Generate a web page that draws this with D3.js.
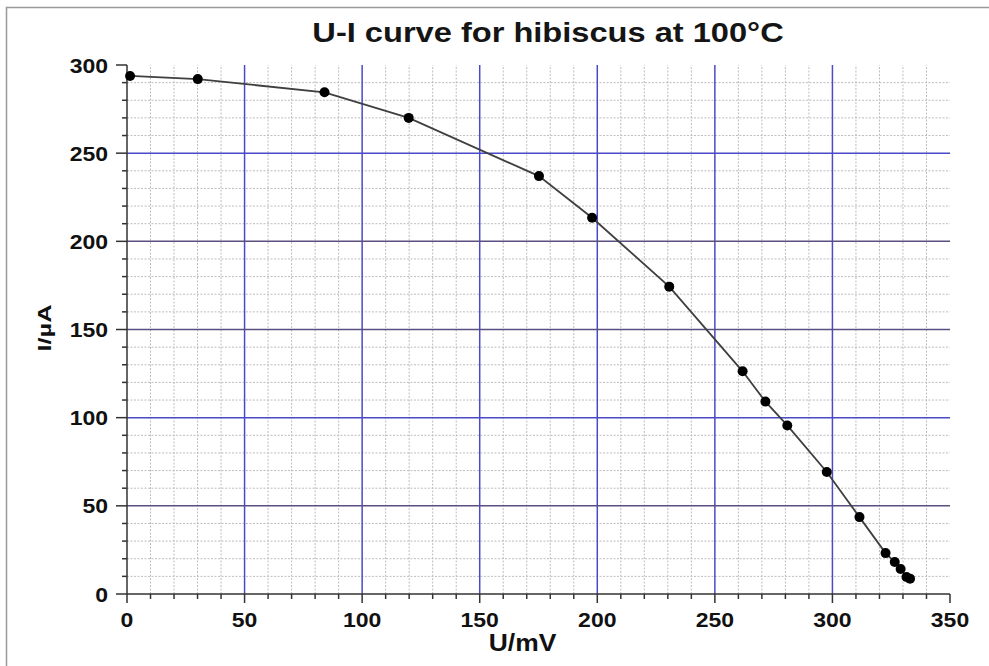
<!DOCTYPE html>
<html>
<head>
<meta charset="utf-8">
<script src="https://cdn.jsdelivr.net/npm/d3@7"></script>
<style>
  body { margin: 0; background: #fff; }
  text { font-family: "Liberation Sans", Arial, sans-serif; }
</style>
</head>
<body>
<div id="chart-container"></div>
<script>
// Data
const voltage = [1.3, 30.1, 84, 119.8, 175.2, 197.8, 230.6, 261.8, 271.5, 280.8, 297.6, 311.5, 322.6, 326.5, 329, 331.5, 333];
const current = [293.8, 292, 284.5, 270, 237, 213.4, 174.3, 126.3, 109.1, 95.6, 69.2, 43.6, 23.2, 18.1, 14.2, 9.6, 8.7];
const xTicks = [0, 50, 100, 150, 200, 250, 300, 350];
const yTicks = [0, 50, 100, 150, 200, 250, 300];
// horizontal major lines drawn darker in the original
const darkRows = [200, 150, 50];

const points = voltage.map((v, i) => ({ u: v, i: current[i] }));

// Set dimensions and margins for the chart
const margin = { top: 65, right: 39, bottom: 72, left: 127 };
const width = 989 - margin.left - margin.right;
const height = 666 - margin.top - margin.bottom;

// text in the original looks stretched sideways
const stretch = 1.15;

const x = d3.scaleLinear().domain([0, 350]).range([0, width]);
const y = d3.scaleLinear().domain([0, 300]).range([height, 0]);

const root = d3.select("#chart-container")
    .append("svg")
    .attr("width", 989)
    .attr("height", 666);

// thin frame around the picture
root.append("path")
    .attr("d", "M6.5,666 V7.5 H989")
    .attr("fill", "none")
    .attr("stroke", "#999")
    .attr("stroke-width", 1.5);

const svg = root.append("g")
    .attr("transform", `translate(${margin.left},${margin.top})`);

// Minor grid (every 10)
const minorX = d3.range(10, 351, 10).filter(d => d % 50 !== 0);
const minorY = d3.range(10, 301, 10).filter(d => d % 50 !== 0);

svg.append("g").selectAll("line")
    .data(minorX)
    .join("line")
    .attr("x1", d => x(d)).attr("x2", d => x(d))
    .attr("y1", y(0)).attr("y2", y(300))
    .attr("stroke", "#bdbdbd")
    .attr("stroke-width", 1)
    .attr("stroke-dasharray", "2,1.5");

svg.append("g").selectAll("line")
    .data(minorY)
    .join("line")
    .attr("y1", d => y(d)).attr("y2", d => y(d))
    .attr("x1", x(0)).attr("x2", x(350))
    .attr("stroke", "#bdbdbd")
    .attr("stroke-width", 1)
    .attr("stroke-dasharray", "2,1.5");

// Major grid
svg.append("g").selectAll("line")
    .data(xTicks.filter(d => d > 0 && d < 350))
    .join("line")
    .attr("x1", d => x(d)).attr("x2", d => x(d))
    .attr("y1", y(0)).attr("y2", y(300))
    .attr("stroke", "#4a4ac8")
    .attr("stroke-width", 1.5);

svg.append("g").selectAll("line")
    .data(yTicks.filter(d => d > 0 && d < 300))
    .join("line")
    .attr("y1", d => y(d)).attr("y2", d => y(d))
    .attr("x1", x(0)).attr("x2", x(350))
    .attr("stroke", d => darkRows.includes(d) ? "#5a4f80" : "#4a4ac8")
    .attr("stroke-width", 1.5);

// Axes
const axisColor = "#333";
const xAxis = svg.append("g").attr("transform", `translate(0,${height})`);
xAxis.append("line")
    .attr("x1", 0).attr("x2", width)
    .attr("stroke", axisColor).attr("stroke-width", 1.5);
xAxis.selectAll(".minor")
    .data(minorX)
    .join("line")
    .attr("x1", d => x(d)).attr("x2", d => x(d))
    .attr("y1", 0).attr("y2", 5)
    .attr("stroke", axisColor).attr("stroke-width", 1.5);
xAxis.selectAll(".major")
    .data(xTicks)
    .join("line")
    .attr("x1", d => x(d)).attr("x2", d => x(d))
    .attr("y1", 0).attr("y2", 9)
    .attr("stroke", axisColor).attr("stroke-width", 1.5);
xAxis.selectAll("text")
    .data(xTicks)
    .join("text")
    .attr("transform", d => `translate(${x(d)},33) scale(${stretch},1)`)
    .attr("text-anchor", "middle")
    .attr("font-size", 20)
    .attr("font-weight", "bold")
    .attr("fill", "#111")
    .text(d => d);

const yAxis = svg.append("g");
yAxis.append("line")
    .attr("y1", 0).attr("y2", height)
    .attr("stroke", axisColor).attr("stroke-width", 1.5);
yAxis.selectAll(".minor")
    .data(minorY)
    .join("line")
    .attr("y1", d => y(d)).attr("y2", d => y(d))
    .attr("x1", 0).attr("x2", -5)
    .attr("stroke", axisColor).attr("stroke-width", 1.5);
yAxis.selectAll(".major")
    .data(yTicks)
    .join("line")
    .attr("y1", d => y(d)).attr("y2", d => y(d))
    .attr("x1", 0).attr("x2", -11)
    .attr("stroke", axisColor).attr("stroke-width", 1.5);
yAxis.selectAll("text")
    .data(yTicks)
    .join("text")
    .attr("transform", d => `translate(-19,${y(d) + 7.5}) scale(${stretch},1)`)
    .attr("text-anchor", "end")
    .attr("font-size", 20)
    .attr("font-weight", "bold")
    .attr("fill", "#111")
    .text(d => d);

// Axis titles
svg.append("text")
    .attr("transform", `translate(${x(350) / 2 - 16},${height + 57}) scale(${stretch},1)`)
    .attr("text-anchor", "middle")
    .attr("font-size", 23)
    .attr("font-weight", "bold")
    .attr("fill", "#111")
    .text("U/mV");

root.append("text")
    .attr("transform", "translate(51,328) rotate(-90) scale(1.45,1)")
    .attr("text-anchor", "middle")
    .attr("font-size", 17.5)
    .attr("font-weight", "bold")
    .attr("fill", "#111")
    .text("I/µA");

// Title
root.append("text")
    .attr("transform", `translate(548,42) scale(1.165,1)`)
    .attr("text-anchor", "middle")
    .attr("font-size", 28)
    .attr("fill", "#151515")
    .style("font-weight", "bold")
    .text("U-I curve for hibiscus at 100°C");

// Line through the points
const line = d3.line()
    .x(d => x(d.u))
    .y(d => y(d.i));

svg.append("path")
    .datum(points)
    .attr("fill", "none")
    .attr("stroke", "#3f3f3f")
    .attr("stroke-width", 1.8)
    .attr("d", line);

svg.append("g").selectAll("circle")
    .data(points)
    .join("circle")
    .attr("cx", d => x(d.u))
    .attr("cy", d => y(d.i))
    .attr("r", 5)
    .attr("fill", "#000");
</script>
</body>
</html>
